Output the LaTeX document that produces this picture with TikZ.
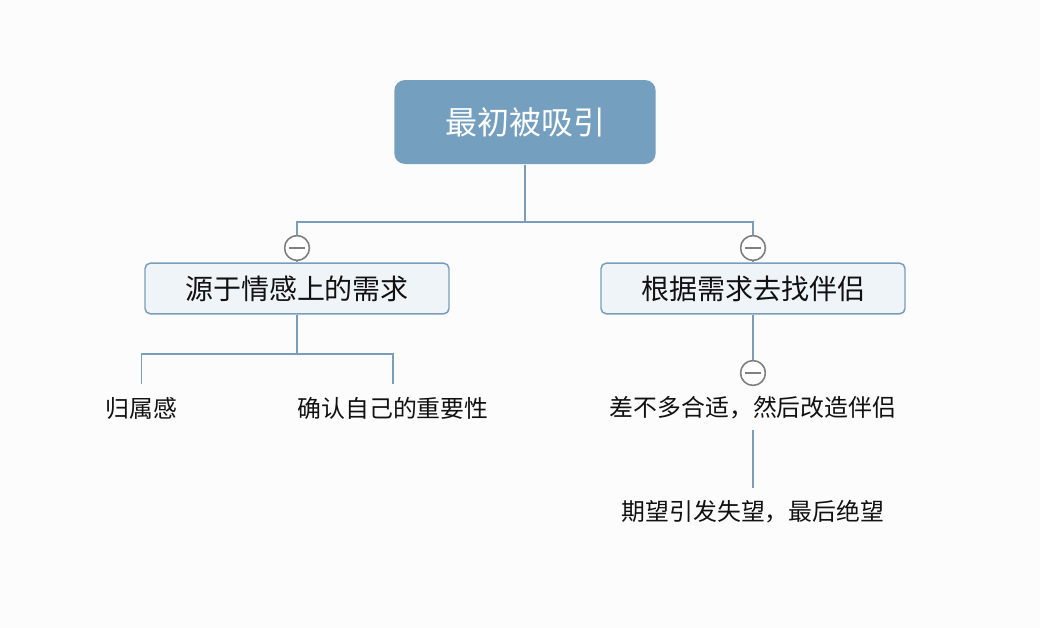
\documentclass[tikz,border=0pt]{standalone}
\usepackage{fontspec}
\setmainfont{Noto Sans CJK SC}
\definecolor{rootblue}{RGB}{116,159,191}
\definecolor{linkblue}{RGB}{122,158,186}
\definecolor{boxfill}{RGB}{239,244,248}
\definecolor{knobgray}{RGB}{128,128,128}
\definecolor{inkgray}{RGB}{17,17,17}
\tikzset{every picture/.style={line width=0.75pt}}
\tikzset{
  rootbox/.style={draw=none, fill=rootblue, rounded corners=8pt, text=white,
    minimum width=196pt, minimum height=63pt, font=\fontsize{24}{28}\selectfont},
  topicbox/.style={draw=linkblue, fill=boxfill, line width=1.1pt, rounded corners=4pt, text=inkgray,
    minimum width=228pt, minimum height=38pt, font=\fontsize{21}{24}\selectfont},
  leaftext/.style={text=inkgray, inner sep=2pt, font=\fontsize{17.9}{21}\selectfont},
  knob/.style={circle, draw=knobgray, fill=white, line width=1.1pt, minimum size=18.5pt, inner sep=0pt,
    path picture={\draw[knobgray, line width=1.1pt] ([xshift=-6pt]path picture bounding box.center) -- ([xshift=6pt]path picture bounding box.center);}},
  link/.style={draw=linkblue, line width=1.3pt}
}
\begin{document}
\begin{tikzpicture}[x=0.75pt,y=0.75pt,yscale=-1,xscale=1]
		\fill[white!99!black] (0,0) rectangle (1040,628);
		\useasboundingbox (0,0) rectangle (1040,628);

		% Root
		\node[rootbox] (root) at (525,122) {最初被吸引};
		% Topics
		\node[topicbox] (need) at (297,288.5) {源于情感上的需求};
		\node[topicbox] (seek) at (753,288.5) {根据需求去找伴侣};
		% Collapse knobs
		\node[knob] (kneed) at (297,248) {};
		\node[knob] (kseek) at (753,248) {};
		\node[knob] (ksettle) at (753,373) {};
		% Leaves
		\node[leaftext] (belong) at (141.5,408) {归属感};
		\node[leaftext] (worth) at (393,408) {确认自己的重要性};
		\node[leaftext] (settle) at (753,408) {差不多合适，然后改造伴侣};
		\node[leaftext] (despair) at (753,512) {期望引发失望，最后绝望};

		% Joints
		\coordinate (jroot) at (525,222);
		\coordinate (jneed) at (297,354);
		\coordinate (tbelong) at (141.5,384);
		\coordinate (tworth) at (393,384);
		\coordinate (bsettle) at (753,430);
		\coordinate (tdespair) at (753,488);

		% Links
		\draw[link] (root.south) -- (jroot);
		\draw[link] (jroot) -| (kneed.north);
		\draw[link] (jroot) -| (kseek.north);
		\draw[link] (kneed.south) -- (need.north);
		\draw[link] (kseek.south) -- (seek.north);
		\draw[link] (need.south) -- (jneed);
		\draw[link] (jneed) -| (tbelong);
		\draw[link] (jneed) -| (tworth);
		\draw[link] (seek.south) -- (ksettle.north);
		\draw[link] (bsettle) -- (tdespair);

		% Knobs on top
		\node[knob] at (kneed) {};
		\node[knob] at (kseek) {};
		\node[knob] at (ksettle) {};

		\end{tikzpicture}
\end{document}
